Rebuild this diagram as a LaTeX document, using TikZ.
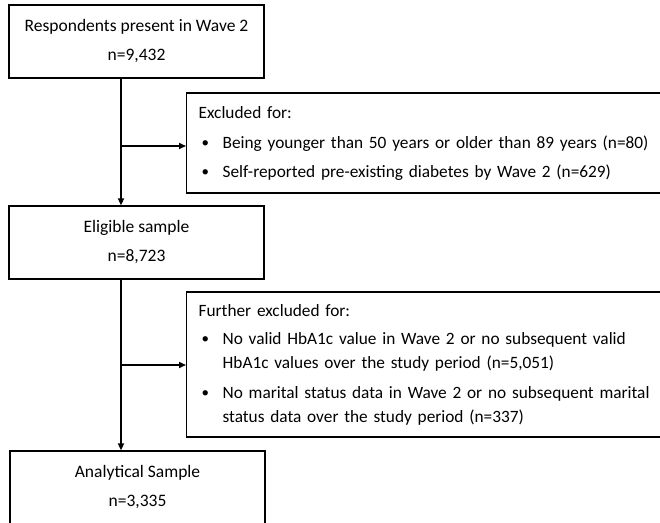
\documentclass[tikz,border=0pt]{standalone}
\usepackage{fontspec}
\setmainfont{Carlito}
\usetikzlibrary{arrows.meta}
\newcommand{\bul}{\hspace*{3pt}\makebox[21pt][l]{\raisebox{0.3pt}{\fontsize{15}{15}\selectfont\textbullet}}}
\newcommand{\ind}{\hspace*{24pt}}
\begin{document}
\begin{tikzpicture}[x=1pt,y=1pt,
  mainbox/.style={draw=black,line width=1.3pt,minimum width=255pt,minimum height=73pt,
    inner sep=0pt,align=center,font=\fontsize{17.5}{29}\selectfont},
  exbox/.style={draw=black,line width=1.3pt,anchor=west,inner xsep=12pt,inner ysep=0pt,
    text width=470pt,align=left,font=\fontsize{17.3}{24}\selectfont},
  arr/.style={line width=1.6pt,-{Triangle[length=7pt,width=6pt]}}]
\useasboundingbox (0,0) rectangle (660,-522);
\clip (0,0) rectangle (660,-522);
\node[mainbox] (b1) at (136.5,-41.5) {Respondents present in Wave 2\\n=9,432};
\node[exbox,minimum height=100pt] (e1) at (186,-143) {Excluded for:\\[6pt]
\bul Being younger than 50 years or older than 89 years (n=80)\\[5pt]
\bul Self-reported pre-existing diabetes by Wave 2 (n=629)};
\node[mainbox] (b2) at (136.5,-242.5) {Eligible sample\\n=8,723};
\node[exbox,minimum height=145pt] (e2) at (186,-364.5) {Further excluded for:\\[4pt]
\bul No valid HbA1c value in Wave 2 or no subsequent valid\\
\ind HbA1c values over the study period (n=5,051)\\[6pt]
\bul No marital status data in Wave 2 or no subsequent marital\\
\ind status data over the study period (n=337)};
\node[mainbox] (b3) at (137.5,-487.5) {Analytical Sample\\n=3,335};
\coordinate (v1) at (121,-146);
\coordinate (v2) at (121,-365);
\draw[arr] (b1.south -| v1) -- (b2.north -| v1);
\draw[arr] (v1) -- (v1 -| e1.west);
\draw[arr] (b2.south -| v2) -- (b3.north -| v2);
\draw[arr] (v2) -- (v2 -| e2.west);
\end{tikzpicture}
\end{document}
